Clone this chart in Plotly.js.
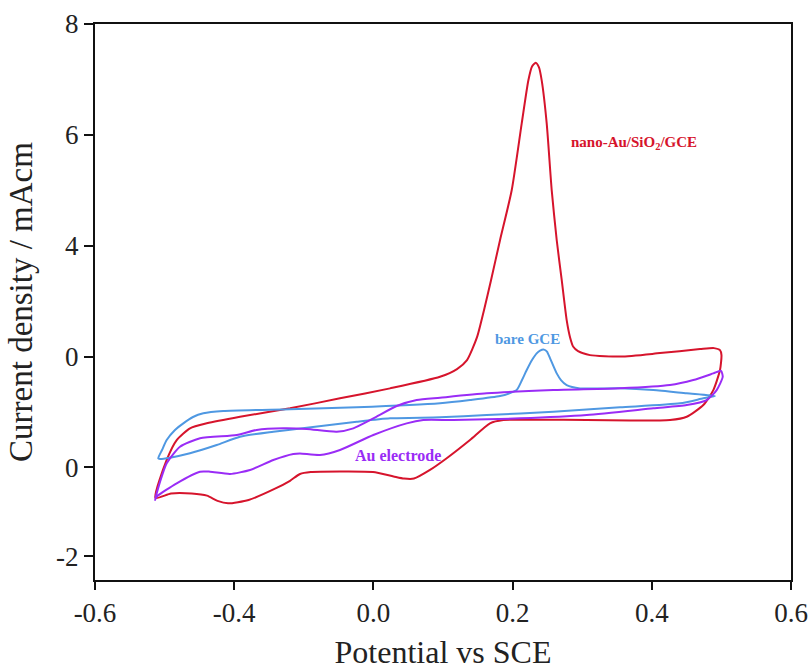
<!DOCTYPE html>
<html>
<head>
<meta charset="utf-8">
<script src="https://cdn.plot.ly/plotly-3.0.1.min.js"></script>
<style>html,body{margin:0;padding:0;background:#fff;}#chart{width:812px;height:670px;}</style>
</head>
<body>
<div id="chart"></div>
<script>
// Potential (x) and current density (y)
const redX = [-0.3132,-0.2970,-0.2826,-0.2635,-0.2395,-0.1917,-0.1198,-0.0480,0.0239,0.0957,0.1201,0.1345,0.1489,0.1589,0.1690,0.1819,0.1987,0.2131,0.2226,0.2279,0.2332,0.2379,0.2418,0.2490,0.2562,0.2634,0.2706,0.2777,0.2825,0.2872,0.2940,0.3112,0.3557,0.4118,0.4693,0.4894,0.4980,0.5001,0.4980,0.4884,0.4740,0.4502,0.4262,0.3687,0.3065,0.2394,0.1866,0.1675,0.1388,0.1053,0.0813,0.0583,0.0440,0.0290,-0.0006,-0.0480,-0.0901,-0.1055,-0.1198,-0.1421,-0.1793,-0.2089,-0.2240,-0.2391,-0.2612,-0.2908,-0.3132];
const redY = [-0.548,0.135,0.495,0.706,0.796,0.915,1.067,1.247,1.427,1.636,1.775,1.937,2.351,2.838,3.378,4.099,5.000,6.207,6.982,7.234,7.301,7.216,6.982,6.207,5.000,4.099,3.378,2.658,2.351,2.177,2.099,2.027,2.000,2.063,2.135,2.153,2.117,2.027,1.757,1.396,1.126,0.915,0.856,0.847,0.856,0.861,0.856,0.796,0.495,0.166,-0.045,-0.200,-0.200,-0.162,-0.081,-0.072,-0.081,-0.117,-0.240,-0.387,-0.586,-0.647,-0.602,-0.508,-0.470,-0.470,-0.548];

const blueX = [-0.3091,-0.3037,-0.2970,-0.2851,-0.2731,-0.2592,-0.2444,-0.2157,-0.1198,-0.0240,0.0957,0.1388,0.1819,0.1963,0.2059,0.2135,0.2203,0.2279,0.2346,0.2394,0.2451,0.2494,0.2537,0.2634,0.2695,0.2777,0.2968,0.3543,0.4022,0.4502,0.4908,0.4740,0.4405,0.3543,0.2585,0.1628,0.0957,0.0239,-0.0240,-0.0958,-0.1438,-0.1917,-0.2251,-0.2635,-0.2922,-0.3066,-0.3091];
const blueY = [0.166,0.315,0.495,0.676,0.796,0.910,0.977,1.018,1.049,1.085,1.157,1.216,1.288,1.342,1.396,1.577,1.757,1.937,2.058,2.108,2.126,2.090,1.973,1.697,1.577,1.486,1.427,1.427,1.396,1.337,1.288,1.247,1.157,1.085,1.005,0.946,0.905,0.886,0.825,0.717,0.645,0.555,0.405,0.256,0.177,0.153,0.166];

const purpleX = [-0.3138,-0.3066,-0.2970,-0.2779,-0.2491,-0.1964,-0.1677,-0.1295,-0.0958,-0.0527,-0.0289,-0.0001,0.0335,0.0622,0.0957,0.1628,0.2585,0.3543,0.4261,0.4596,0.4884,0.4994,0.5019,0.4932,0.4789,0.4502,0.4022,0.3065,0.2106,0.1148,0.0717,0.0478,-0.0001,-0.0480,-0.0767,-0.1055,-0.1151,-0.1438,-0.1773,-0.2060,-0.2348,-0.2491,-0.2826,-0.3114,-0.3138];
const purpleY = [-0.586,-0.261,0.076,0.375,0.526,0.586,0.676,0.706,0.694,0.645,0.706,0.886,1.108,1.216,1.258,1.337,1.396,1.427,1.486,1.577,1.697,1.744,1.636,1.396,1.216,1.126,1.067,0.946,0.886,0.856,0.856,0.796,0.586,0.315,0.225,0.252,0.243,0.135,-0.045,-0.117,-0.076,-0.076,-0.285,-0.526,-0.586];

const xTickVals = [-0.4,-0.2,0.0,0.2,0.4,0.6];
const xTickText = ["-0.6","-0.4","0.0","0.2","0.4","0.6"];
const yTickVals = [-1.6,0,2,4,6,8];
const yTickText = ["-2","0","0","4","6","8"];

const seriesNames = ["nano-Au/SiO<sub>2</sub>/GCE","bare GCE","Au electrode"];
const seriesColors = ["#d6142c","#4f98e2","#9a2cf6"];
const labelX = [0.374,0.222,0.035];
const labelY = [5.85,2.315,0.225];

const serif = "Liberation Serif, Times New Roman, serif";

const traces = [
  {x: redX, y: redY},
  {x: blueX, y: blueY},
  {x: purpleX, y: purpleY}
].map((d,i)=>({
  x: d.x, y: d.y, type: 'scatter', mode: 'lines', name: seriesNames[i],
  line: {color: seriesColors[i], width: 2, shape: 'spline', smoothing: 0.6},
  hoverinfo: 'skip'
}));

const annotations = seriesNames.map((t,i)=>({
  x: labelX[i], y: labelY[i], xref: 'x', yref: 'y', text: '<b>'+t+'</b>',
  showarrow: false, font: {family: serif, size: i===2?16:15, color: seriesColors[i]},
  xanchor: 'center', yanchor: 'middle'
}));

const layout = {
  width: 812, height: 670,
  margin: {l: 95, r: 21, t: 24, b: 90},
  paper_bgcolor: '#fff', plot_bgcolor: '#fff',
  showlegend: false,
  xaxis: {
    range: [-0.4, 0.6], tickvals: xTickVals, ticktext: xTickText,
    ticks: 'outside', ticklen: 8, tickwidth: 2, tickcolor: '#111',
    showline: true, linecolor: '#111', linewidth: 2, mirror: true,
    showgrid: false, zeroline: false,
    tickfont: {family: serif, size: 27, color: '#222'},
    title: {text: 'Potential vs SCE', font: {family: serif, size: 32, color: '#222'}, standoff: 22}
  },
  yaxis: {
    range: [-2.03, 8], tickvals: yTickVals, ticktext: yTickText,
    ticks: 'outside', ticklen: 9, tickwidth: 2, tickcolor: '#111',
    showline: true, linecolor: '#111', linewidth: 2, mirror: true,
    showgrid: false, zeroline: false,
    tickfont: {family: serif, size: 27, color: '#222'},
    title: {text: 'Current density / mAcm', font: {family: serif, size: 33, color: '#222'}, standoff: 14}
  },
  annotations: annotations
};

Plotly.newPlot('chart', traces, layout, {displayModeBar: false, staticPlot: true});
</script>
</body>
</html>
